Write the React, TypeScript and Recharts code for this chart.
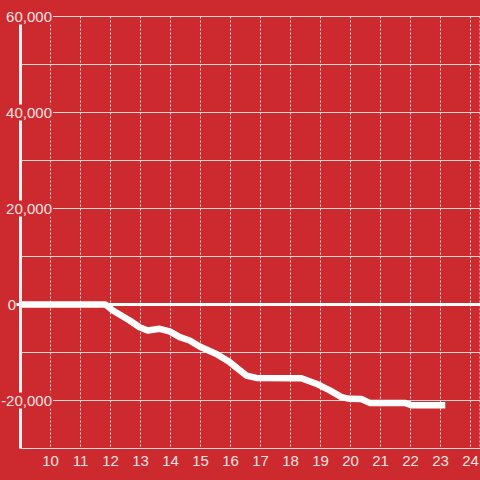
import React from 'react';
import { LineChart, Line, XAxis, YAxis, CartesianGrid, ReferenceLine } from 'recharts';

const hours = [9, 11.83, 12.08, 12.64, 12.97, 13.24, 13.64, 13.97, 14.31, 14.64, 14.97, 15.53, 15.97, 16.53, 16.86, 18.36, 18.86, 19.31, 19.7, 19.97, 20.36, 20.64, 21.81, 22.03, 23.16];
const values = [0, 0, -1250, -3330, -4730, -5400, -5070, -5600, -6800, -7500, -8750, -10300, -12000, -14800, -15300, -15350, -16500, -17900, -19300, -19650, -19700, -20500, -20500, -21000, -21000];
const xTicks = [10, 11, 12, 13, 14, 15, 16, 17, 18, 19, 20, 21, 22, 23, 24];
const yTicks = [-30000, -20000, -10000, 0, 10000, 20000, 30000, 40000, 50000, 60000];
const yLabelled = [-20000, 0, 20000, 40000, 60000];

const data = hours.map((h, i) => ({ h, v: values[i] }));

const BG = '#cc2a2e';
const TEXT = '#f4e2e2';
const FONT = '"Liberation Sans", Arial, sans-serif';

const YTick = (props: any) => {
  const { y, payload } = props;
  const val = payload.value;
  if (!yLabelled.includes(val)) return <g />;
  const label = val.toLocaleString('en-US');
  if (val === 0) {
    return (
      <text x={16} y={y} dy="0.35em" textAnchor="end" fill={TEXT} fontSize={15} fontFamily={FONT}>
        {label}
      </text>
    );
  }
  return (
    <g>
      <rect x={1} y={y - 8} width={52} height={16} fill={BG} />
      <text x={52} y={y} dy="0.35em" textAnchor="end" fill={TEXT} fontSize={15} fontFamily={FONT}>
        {label}
      </text>
    </g>
  );
};

const XTick = (props: any) => {
  const { x, payload } = props;
  return (
    <text x={x} y={466} textAnchor="middle" fill={TEXT} fontSize={15} fontFamily={FONT}>
      {payload.value}
    </text>
  );
};

export default function App() {
  return (
    <div style={{ position: 'absolute', left: 0, top: 0, width: 480, height: 480, background: BG }}>
      <LineChart width={480} height={480} data={data} margin={{ top: 16.5, right: 0, bottom: 0, left: 0 }}>
        <CartesianGrid horizontal={false} stroke="#e4e4e4" strokeDasharray="2 2" />
        <CartesianGrid vertical={false} stroke="#d8d8d8" strokeWidth={1} />
        <XAxis
          dataKey="h"
          type="number"
          domain={[9, 24.317]}
          ticks={xTicks}
          interval={0}
          allowDataOverflow
          height={31.5}
          axisLine={false}
          tickLine={false}
          tick={<XTick />}
        />
        <YAxis
          type="number"
          domain={[-30000, 60000]}
          ticks={yTicks}
          interval={0}
          width={20.5}
          axisLine={{ stroke: '#f2eeee', strokeWidth: 3 }}
          tickLine={false}
          tick={<YTick />}
        />
        <ReferenceLine
          segment={[{ x: 8.865, y: 0 }, { x: 24.317, y: 0 }]}
          stroke="#ffffff"
          strokeWidth={3}
          ifOverflow="visible"
        />
        <Line
          dataKey="v"
          type="linear"
          stroke="#ffffff"
          strokeWidth={6.5}
          strokeLinejoin="round"
          strokeLinecap="butt"
          dot={false}
          activeDot={false}
          isAnimationActive={false}
        />
      </LineChart>
    </div>
  );
}
